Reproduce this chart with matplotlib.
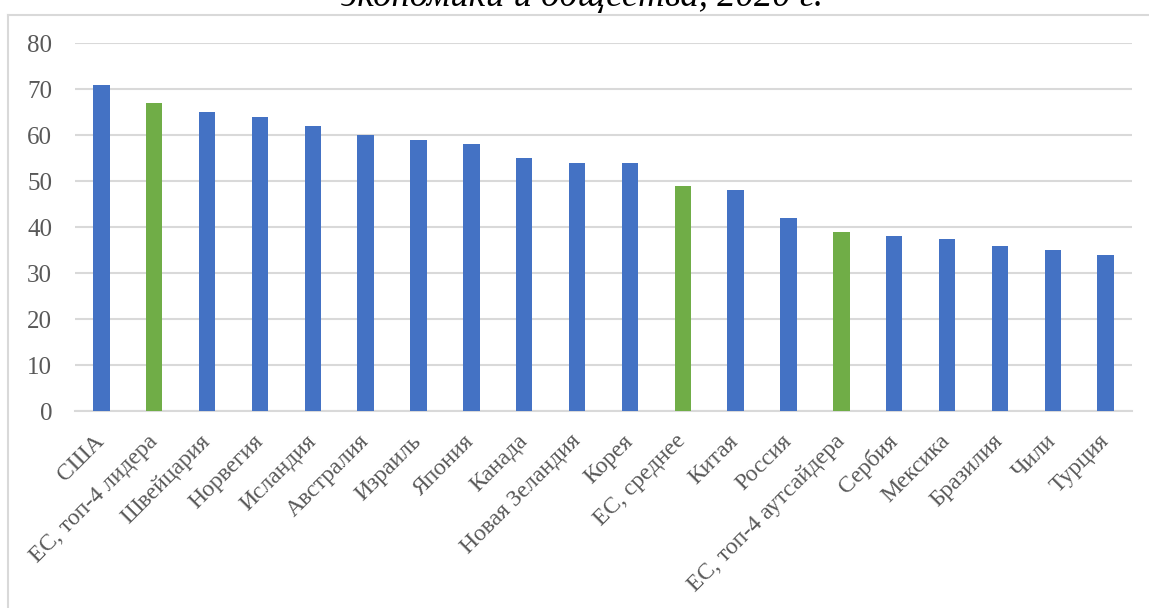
import matplotlib.pyplot as plt
from matplotlib.lines import Line2D

# индекс по странам и группам ЕС
labels = ["США", "ЕС, топ-4 лидера", "Швейцария", "Норвегия", "Исландия",
          "Австралия", "Израиль", "Япония", "Канада", "Новая Зеландия",
          "Корея", "ЕС, среднее", "Китая", "Россия", "ЕС, топ-4 аутсайдера",
          "Сербия", "Мексика", "Бразилия", "Чили", "Турция"]
values = [71, 67, 65, 64, 62, 60, 59, 58, 55, 54,
          54, 49, 48, 42, 39, 38, 37.5, 36, 35, 34]

blue = "#4472C4"
green = "#70AD47"
colors = [green if lab.startswith("ЕС") else blue for lab in labels]

plt.rcParams['font.family'] = ['Liberation Serif', 'DejaVu Serif']

fig = plt.figure(figsize=(11.49, 6.08), dpi=100)
ax = fig.add_axes([75 / 1149, 1 - 411 / 608, (1132 - 75) / 1149, (411 - 43.3) / 608])

x = range(len(labels))
ax.bar(x, values, width=0.31, color=colors, zorder=3)

ax.set_xlim(-0.5, len(labels) - 0.5)
ax.set_ylim(0, 80)
ax.set_yticks(range(0, 81, 10))
ax.yaxis.grid(True, color="#D9D9D9", linewidth=1.5, zorder=0)
ax.set_axisbelow(True)
for side in ["top", "right", "left"]:
    ax.spines[side].set_visible(False)
ax.spines["bottom"].set_color("#D9D9D9")
ax.spines["bottom"].set_linewidth(1.5)

ax.tick_params(axis="y", length=0, pad=16.5, labelsize=18, labelcolor="#595959")
ax.tick_params(axis="x", length=0, pad=19.5, labelsize=17, labelcolor="#595959")
ax.set_xticks(list(x))
ax.set_xticklabels(labels, rotation=45, ha="right", va="center", rotation_mode="anchor")

# рамка области диаграммы
fig.add_artist(Line2D([8 / 1149, 1], [1 - 15 / 608, 1 - 15 / 608],
                      color="#D9D9D9", linewidth=1.5, transform=fig.transFigure))
fig.add_artist(Line2D([8 / 1149, 8 / 1149], [0, 1 - 15 / 608],
                      color="#D9D9D9", linewidth=1.5, transform=fig.transFigure))

fig.text(582 / 1149, 1 - 6 / 608, "экономики и общества, 2020 г.",
         ha="center", va="baseline", fontsize=26.5, style="italic", color="black")

fig.savefig("out.png", dpi=100)
